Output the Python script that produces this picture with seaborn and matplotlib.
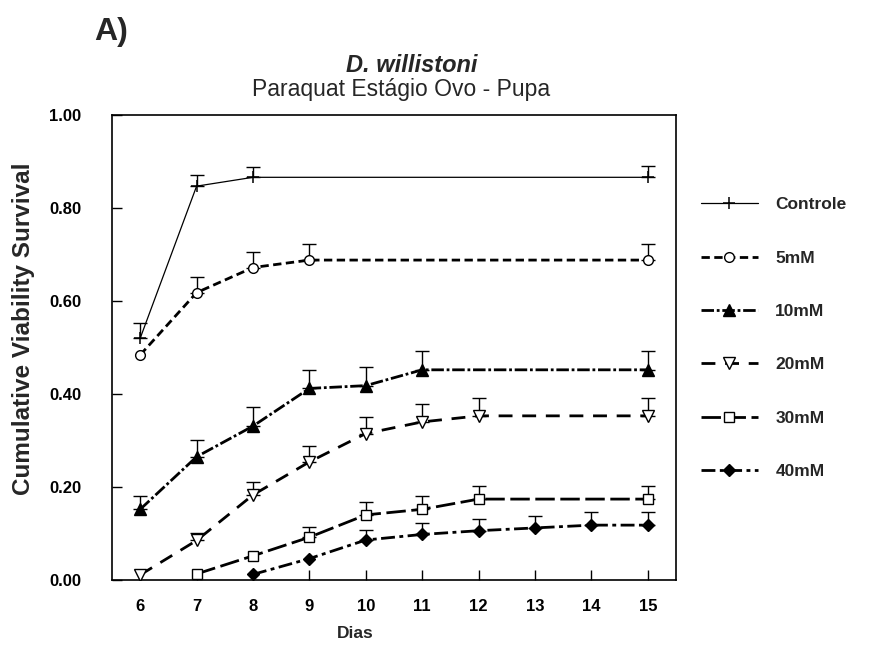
import numpy as np
import matplotlib
matplotlib.use("Agg")
import matplotlib.pyplot as plt
import seaborn as sns

days = [6, 7, 8, 9, 10, 11, 12, 13, 14, 15]
yticks = [0.0, 0.2, 0.4, 0.6, 0.8, 1.0]

ctrl_x = [6, 7, 8, 15]
ctrl_y = [0.520, 0.847, 0.866, 0.866]
ctrl_e = [0.033, 0.025, 0.023, 0.024]

mm5_x = [6, 7, 8, 9, 15]
mm5_y = [0.484, 0.618, 0.672, 0.688, 0.688]
mm5_e = [np.nan, 0.034, 0.034, 0.035, 0.035]

mm10_x = [6, 7, 8, 9, 10, 11, 15]
mm10_y = [0.152, 0.265, 0.331, 0.412, 0.418, 0.452, 0.452]
mm10_e = [0.029, 0.036, 0.040, 0.040, 0.041, 0.040, 0.040]

mm20_x = [6, 7, 8, 9, 10, 11, 12, 15]
mm20_y = [0.011, 0.085, 0.183, 0.254, 0.315, 0.340, 0.353, 0.353]
mm20_e = [np.nan, 0.017, 0.027, 0.034, 0.035, 0.038, 0.038, 0.038]

mm30_x = [7, 8, 9, 10, 11, 12, 15]
mm30_y = [0.013, 0.052, 0.092, 0.140, 0.152, 0.174, 0.174]
mm30_e = [np.nan, np.nan, 0.023, 0.027, 0.029, 0.029, 0.029]

mm40_x = [8, 9, 10, 11, 12, 13, 14, 15]
mm40_y = [0.012, 0.046, 0.086, 0.098, 0.106, 0.112, 0.118, 0.118]
mm40_e = [np.nan, np.nan, 0.022, 0.025, 0.025, 0.026, 0.028, 0.028]

labels = ["Controle", "5mM", "10mM", "20mM", "30mM", "40mM"]

sns.set_theme(style="white")
plt.rcParams['font.family'] = ['Liberation Sans', 'DejaVu Sans']

W, H = 870, 648
fig = plt.figure(figsize=(8.7, 6.48), dpi=100)
ax = fig.add_axes([112 / W, 1 - 580 / H, (676 - 112) / W, (580 - 115) / H])

series = [
    (ctrl_x, ctrl_y, ctrl_e, dict(marker='+', ms=9, mew=1.1, mfc='black', lw=0.9, ls='-')),
    (mm5_x, mm5_y, mm5_e, dict(marker='o', ms=7, mew=1.0, mfc='white', lw=2.0, ls=(0, (3.0, 1.6)))),
    (mm10_x, mm10_y, mm10_e, dict(marker='^', ms=8, mew=1.0, mfc='black', lw=2.0, ls=(0, (4.5, 1.0, 1.0, 1.0)))),
    (mm20_x, mm20_y, mm20_e, dict(marker='v', ms=8, mew=1.0, mfc='white', lw=2.0, ls=(0, (5.0, 3.5)))),
    (mm30_x, mm30_y, mm30_e, dict(marker='s', ms=7, mew=1.0, mfc='white', lw=2.0, ls=(0, (7.0, 2.0)))),
    (mm40_x, mm40_y, mm40_e, dict(marker='D', ms=6.5, mew=1.0, mfc='black', lw=2.0, ls=(0, (5.0, 1.6, 1.4, 1.6)))),
]

for (xs, ys, es, st), lab in zip(series, labels):
    sns.lineplot(x=xs, y=ys, ax=ax, color='black', marker=st['marker'], markersize=st['ms'],
                 markeredgewidth=st['mew'], markerfacecolor=st['mfc'], markeredgecolor='black',
                 linewidth=st['lw'], linestyle=st['ls'], label=lab, zorder=3)
    xs_a = np.array(xs, dtype=float)
    ys_a = np.array(ys, dtype=float)
    es_a = np.array(es, dtype=float)
    ok = ~np.isnan(es_a)
    ax.errorbar(xs_a[ok], ys_a[ok], yerr=[np.zeros(ok.sum()), es_a[ok]], fmt='none',
                ecolor='black', elinewidth=1.0, capsize=5, capthick=1.0, zorder=2)

ax.set_xlim(5.5, 15.5)
ax.set_ylim(0, 1.0)
ax.set_xticks(days)
ax.set_xticklabels([str(d) for d in days], fontsize=12, fontweight='bold')
ax.set_yticks(yticks)
ax.set_yticklabels([f"{v:.2f}" for v in yticks], fontsize=12, fontweight='bold')
ax.tick_params(direction='in', length=7, width=1, colors='black', left=True, bottom=True)
ax.tick_params(axis='x', pad=14)
ax.tick_params(axis='y', pad=22)
for s in ax.spines.values():
    s.set_color('black')
    s.set_linewidth(1.2)

ax.set_xlabel("Dias", fontsize=12.5, fontweight='bold')
ax.xaxis.set_label_coords((355 - 112) / 564, (580 - 626) / 465)
ax.set_ylabel("Cumulative Viability Survival", fontsize=17.5, fontweight='bold')
ax.yaxis.set_label_coords((35 - 112) / 564, (580 - 329) / 465)

fig.text(412 / W, 1 - 72 / H, "D. willistoni", ha='center', va='baseline', fontsize=17,
         fontweight='bold', fontstyle='italic')
fig.text(401 / W, 1 - 96 / H, "Paraquat Estágio Ovo - Pupa", ha='center', va='baseline', fontsize=16.5)
fig.text(94 / W, 1 - 40 / H, "A)", ha='left', va='baseline', fontsize=23, fontweight='bold')

leg = ax.legend(loc='upper left', bbox_to_anchor=(1.016, 0.857), frameon=False,
                fontsize=12.5, handlelength=3.3, labelspacing=2.2, handletextpad=1.0)
for t in leg.get_texts():
    t.set_fontweight('bold')

fig.savefig("out.png", dpi=100)
